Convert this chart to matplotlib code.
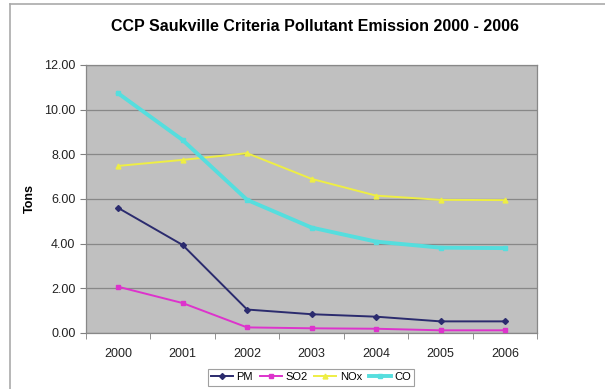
import numpy as np
import matplotlib.pyplot as plt
from matplotlib.lines import Line2D

plt.rcParams['font.family'] = ['Liberation Sans', 'DejaVu Sans']

years = ['2000', '2001', '2002', '2003', '2004', '2005', '2006']
pm = [5.60, 3.94, 1.05, 0.84, 0.73, 0.52, 0.52]
so2 = [2.07, 1.34, 0.25, 0.21, 0.19, 0.12, 0.12]
nox = [7.48, 7.75, 8.05, 6.90, 6.15, 5.96, 5.95]
co = [10.73, 8.64, 5.96, 4.72, 4.09, 3.82, 3.80]

fig = plt.figure(figsize=(6.05, 3.89), dpi=100)
ax = fig.add_axes([0.142, 0.144, 0.746, 0.689])
ax.set_facecolor('#c0c0c0')

x = np.arange(len(years))
ax.plot(x, pm, color='#2b2b6e', lw=1.4, marker='D', ms=3, label='PM', zorder=3)
ax.plot(x, so2, color='#dd33cc', lw=1.4, marker='s', ms=3, label='SO2', zorder=3)
ax.plot(x, nox, color='#eeee44', lw=1.4, marker='^', ms=3.5, label='NOx', zorder=3)
ax.plot(x, co, color='#55dede', lw=2.8, marker='s', ms=3, label='CO', zorder=3)

ax.set_xlim(-0.5, len(years) - 0.5)
ax.set_ylim(0, 12)
ax.set_yticks(np.arange(0, 12.1, 2))
ax.set_yticklabels(['%.2f' % v for v in np.arange(0, 12.1, 2)])
ax.set_xticks(x)
ax.set_xticklabels(years)
ax.set_xticks(np.arange(-0.5, len(years)), minor=True)
ax.tick_params(axis='x', which='major', length=0, pad=11, labelsize=9, labelcolor='#222222')
ax.tick_params(axis='x', which='minor', length=4, color='#808080')
ax.tick_params(axis='y', length=4, color='#808080', labelsize=9, labelcolor='#222222')
ax.grid(axis='y', color='#888888', lw=0.9)
ax.set_axisbelow(True)
for s in ax.spines.values():
    s.set_color('#888888')
    s.set_linewidth(0.9)

ax.set_ylabel('Tons', fontsize=9, fontweight='bold', labelpad=6)
fig.text(0.52, 0.932, 'CCP Saukville Criteria Pollutant Emission 2000 - 2006',
         ha='center', va='center', fontsize=11.5, fontweight='bold')

leg = fig.legend(loc='center', bbox_to_anchor=(0.514, 0.030), ncol=4, fontsize=8,
                 frameon=True, fancybox=False, edgecolor='#888888', handlelength=2.0,
                 handletextpad=0.3, columnspacing=0.6, borderpad=0.3)
leg.get_frame().set_linewidth(0.8)

# outer frame (top and left edges of the chart area)
fig.add_artist(Line2D([0.0165, 1.0], [0.99, 0.99], color='#aaaaaa', lw=1.2))
fig.add_artist(Line2D([0.0165, 0.0165], [0.0, 0.99], color='#aaaaaa', lw=1.2))

fig.savefig('out.png', dpi=100)
